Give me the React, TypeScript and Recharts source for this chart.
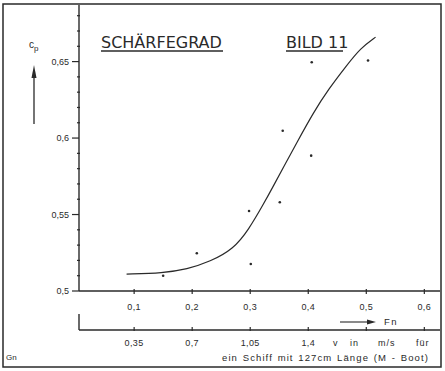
import React from 'react';
import { ComposedChart, Line, Scatter, XAxis, YAxis } from 'recharts';

// Fitted curve (Fn -> Cp)
const CURVE_FN = [0.087, 0.15, 0.191, 0.231, 0.271, 0.297, 0.323, 0.34, 0.357, 0.38, 0.409, 0.435, 0.467, 0.49, 0.516];
const CURVE_CP = [0.511, 0.5118, 0.5142, 0.5192, 0.5274, 0.5399, 0.5569, 0.5687, 0.5808, 0.5968, 0.6168, 0.632, 0.6479, 0.6588, 0.666];

// Measured points
const POINT_FN = [0.15, 0.208, 0.301, 0.298, 0.351, 0.356, 0.405, 0.406, 0.503];
const POINT_CP = [0.51, 0.5247, 0.5177, 0.5523, 0.558, 0.6048, 0.5885, 0.6496, 0.6507];

const Y_TICKS = [0.5, 0.51, 0.52, 0.53, 0.54, 0.55, 0.56, 0.57, 0.58, 0.59, 0.6, 0.61, 0.62, 0.63, 0.64, 0.65, 0.66, 0.67, 0.68];
const FN_TICKS = [0.1, 0.2, 0.3, 0.4, 0.5, 0.6];
// speed scale for the 127 cm model, same positions as the Fn ticks
const V_LABELS = ['0,35', '0,7', '1,05', '1,4', '', ''];

const X_DOMAIN: [number, number] = [0.005, 0.627];
const Y_DOMAIN: [number, number] = [0.5, 0.687];

const curveData = CURVE_FN.map((fn, i) => ({ fn, cp: CURVE_CP[i] }));
const pointData = POINT_FN.map((fn, i) => ({ fn, cp: POINT_CP[i] }));

const INK = '#2a2a2a';
const FONT = 'Liberation Sans, sans-serif';

const comma = (v: number) => String(v).replace('.', ',');

const YTick = ({ x, y, payload }: any) => {
  const v = payload.value;
  const major = Math.round(v * 100) % 5 === 0;
  return (
    <g>
      {major ? (
        <>
          <line x1={x - 7} x2={x} y1={y} y2={y} stroke={INK} strokeWidth={1.2} />
          <text x={x - 10} y={y} dy={3} textAnchor="end" fontSize={9} fill={INK} fontFamily={FONT}>
            {comma(v)}
          </text>
        </>
      ) : (
        <line x1={x - 2} x2={x + 1} y1={y} y2={y} stroke={INK} strokeWidth={1.2} />
      )}
    </g>
  );
};

const FnTick = ({ x, y, payload }: any) => (
  <g>
    <line x1={x} x2={x} y1={y - 2} y2={y + 3} stroke={INK} strokeWidth={1.2} />
    <text x={x} y={y + 19} textAnchor="middle" fontSize={9} fill={INK} fontFamily={FONT} letterSpacing={0.4}>
      {comma(payload.value)}
    </text>
  </g>
);

const VTick = ({ x, y, payload }: any) => {
  const i = FN_TICKS.indexOf(payload.value);
  return (
    <g>
      <line x1={x} x2={x} y1={y - 3} y2={y + 1} stroke={INK} strokeWidth={1.2} />
      <text x={x} y={y + 16} textAnchor="middle" fontSize={9} fill={INK} fontFamily={FONT} letterSpacing={0.4}>
        {V_LABELS[i] ?? ''}
      </text>
    </g>
  );
};

export default function App() {
  return (
    <div style={{ position: 'absolute', left: 0, top: 0, width: 445, height: 371, background: '#fff' }}>
      <ComposedChart width={445} height={371} margin={{ top: 5, right: 5, left: 0, bottom: 1 }}>
        <XAxis
          dataKey="fn"
          type="number"
          domain={X_DOMAIN}
          ticks={FN_TICKS}
          tick={<FnTick />}
          tickSize={0}
          tickMargin={0}
          height={39}
          interval={0}
          axisLine={{ stroke: INK, strokeWidth: 1.4 }}
          tickLine={false}
          allowDataOverflow
        />
        <XAxis
          xAxisId="v"
          dataKey="fn"
          type="number"
          domain={X_DOMAIN}
          ticks={FN_TICKS}
          tick={<VTick />}
          tickSize={0}
          tickMargin={0}
          height={40}
          interval={0}
          axisLine={{ stroke: INK, strokeWidth: 1.4 }}
          tickLine={false}
          allowDataOverflow
        />
        <YAxis
          dataKey="cp"
          type="number"
          domain={Y_DOMAIN}
          ticks={Y_TICKS}
          tick={<YTick />}
          tickSize={0}
          tickMargin={0}
          width={79}
          interval={0}
          axisLine={{ stroke: INK, strokeWidth: 1.4 }}
          tickLine={false}
          allowDataOverflow
        />
        {/* invisible copy so the speed axis has a series bound to it */}
        <Line
          xAxisId="v"
          data={curveData}
          dataKey="cp"
          stroke="none"
          dot={false}
          activeDot={false}
          isAnimationActive={false}
        />
        <Line
          data={curveData}
          dataKey="cp"
          type="basis"
          stroke={INK}
          strokeWidth={1.2}
          dot={false}
          isAnimationActive={false}
        />
        <Scatter
          data={pointData}
          dataKey="cp"
          fill={INK}
          shape={(p: any) => <circle cx={p.cx} cy={p.cy} r={1.3} fill={INK} />}
          isAnimationActive={false}
        />

        {/* frame and annotations */}
        <g fontFamily={FONT} fill={INK}>
          <rect x={3} y={4} width={438} height={363} fill="none" stroke={INK} strokeWidth={1.5} />
          <line x1={79} x2={79} y1={314} y2={330} stroke={INK} strokeWidth={1.4} />

          <text x={101} y={48} fontSize={16} fontFamily="DejaVu Sans, sans-serif">SCHÄRFEGRAD</text>
          <line x1={101} x2={223} y1={51} y2={51} stroke={INK} strokeWidth={1.3} />
          <text x={286} y={48} fontSize={16} fontFamily="DejaVu Sans, sans-serif">BILD 11</text>
          <line x1={286} x2={343} y1={51} y2={51} stroke={INK} strokeWidth={1.3} />

          <text x={29} y={48} fontSize={10}>
            c<tspan fontSize={8} dy={3}>p</tspan>
          </text>
          <line x1={34} x2={34} y1={124} y2={74} stroke={INK} strokeWidth={1.3} />
          <polygon points="31.5,78 36.5,78 34,65" fill={INK} />

          <line x1={340} x2={370} y1={322} y2={322} stroke={INK} strokeWidth={1.1} />
          <polygon points="367,319.5 367,324.5 376,322" fill={INK} />
          <text x={384} y={325} fontSize={9.5} letterSpacing={1.5}>Fn</text>

          <text x={333} y={346} fontSize={9}>v</text>
          <text x={350} y={346} fontSize={9} letterSpacing={1}>in</text>
          <text x={378} y={346} fontSize={9} letterSpacing={1}>m/s</text>
          <text x={416} y={346} fontSize={9} letterSpacing={1}>für</text>
          <text x={222} y={361} fontSize={9.5} letterSpacing={1.1} wordSpacing={1}>
            ein Schiff mit 127cm Länge (M - Boot)
          </text>
          <text x={6} y={360} fontSize={8}>Gn</text>
        </g>
      </ComposedChart>
    </div>
  );
}
